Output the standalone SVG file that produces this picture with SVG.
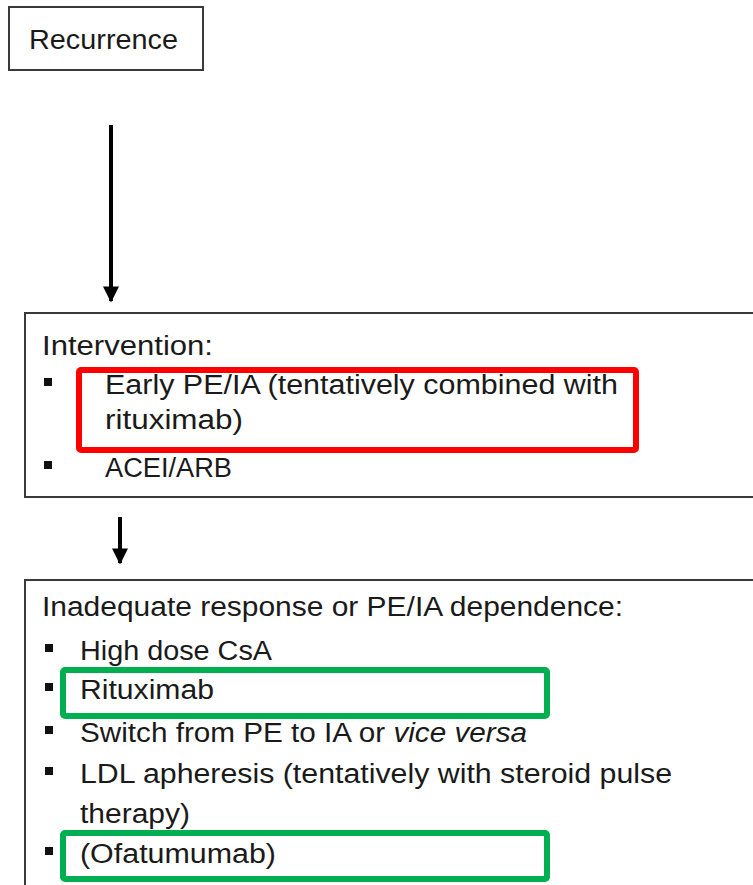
<svg xmlns="http://www.w3.org/2000/svg" width="753" height="885" viewBox="0 0 753 885">
<style>
.box{fill:#fff;stroke:#3a3a3a;stroke-width:2}
.t{font-family:"Liberation Sans",Arial,sans-serif;font-size:27px;fill:#1a1a1a}
.b{fill:#111}
.red{fill:none;stroke:#ff0000;stroke-width:6}
.grn{fill:none;stroke:#00b050;stroke-width:6}
.c{stroke:#000;stroke-width:4;fill:none}
</style>
<defs>
<marker id="ah" viewBox="0 0 10 10" refX="9" refY="5" markerWidth="4.5" markerHeight="4" orient="auto" markerUnits="strokeWidth">
<path d="M0,0 L10,5 L0,10 z" fill="#000"/>
</marker>
</defs>
<rect width="753" height="885" fill="#fff"/>
<g id="recurrence">
<rect class="box" x="9" y="7" width="194" height="63"/>
<text class="t" x="29" y="49" textLength="149" lengthAdjust="spacingAndGlyphs">Recurrence</text>
</g>
<g id="connectors">
<line class="c" x1="111" y1="125" x2="111" y2="301" marker-end="url(#ah)"/>
<line class="c" x1="120" y1="517" x2="120" y2="563" marker-end="url(#ah)"/>
</g>
<g id="intervention">
<rect class="box" x="25" y="313" width="740" height="184"/>
<text class="t" x="42" y="355" textLength="171" lengthAdjust="spacingAndGlyphs">Intervention:</text>
<rect class="b" x="44" y="378" width="8" height="8"/>
<text class="t" x="105" y="394" textLength="513" lengthAdjust="spacingAndGlyphs">Early PE/IA (tentatively combined with</text>
<text class="t" x="105" y="429" textLength="138" lengthAdjust="spacingAndGlyphs">rituximab)</text>
<rect class="b" x="44" y="461" width="8" height="8"/>
<text class="t" x="105" y="477" textLength="127" lengthAdjust="spacingAndGlyphs">ACEI/ARB</text>
<rect class="red" x="79" y="370" width="557" height="80" rx="2"/>
</g>
<g id="response">
<rect class="box" x="25" y="580" width="740" height="320"/>
<text class="t" x="42" y="616" textLength="581" lengthAdjust="spacingAndGlyphs">Inadequate response or PE/IA dependence:</text>
<rect class="b" x="45" y="644" width="8" height="8"/>
<text class="t" x="80" y="660" textLength="192" lengthAdjust="spacingAndGlyphs">High dose CsA</text>
<rect class="b" x="45" y="683" width="8" height="8"/>
<text class="t" x="80" y="699" textLength="134" lengthAdjust="spacingAndGlyphs">Rituximab</text>
<rect class="b" x="45" y="726" width="8" height="8"/>
<text class="t" x="80" y="742" textLength="447" lengthAdjust="spacingAndGlyphs">Switch from PE to IA or <tspan font-style="italic">vice versa</tspan></text>
<rect class="b" x="45" y="767" width="8" height="8"/>
<text class="t" x="80" y="783" textLength="592" lengthAdjust="spacingAndGlyphs">LDL apheresis (tentatively with steroid pulse</text>
<text class="t" x="80" y="823" textLength="110" lengthAdjust="spacingAndGlyphs">therapy)</text>
<rect class="b" x="45" y="847" width="8" height="8"/>
<text class="t" x="80" y="863" textLength="196" lengthAdjust="spacingAndGlyphs">(Ofatumumab)</text>
<rect class="grn" x="63" y="670" width="484" height="46" rx="2"/>
<rect class="grn" x="63" y="833" width="484" height="46" rx="2"/>
</g>
</svg>
